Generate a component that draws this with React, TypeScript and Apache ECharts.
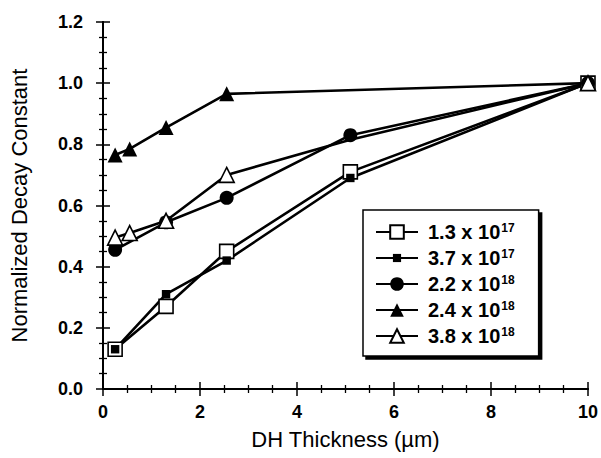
import { useEffect, useRef } from "react";
import * as echarts from "echarts";

// DH thickness (µm) at which each doping level was measured
const thickA = [0.25, 1.3, 2.55, 5.1, 10];
const thickTri = [0.25, 0.55, 1.3, 2.55, 10];
const thickOpenTri = [0.25, 0.55, 1.3, 2.55, 5.1, 10];

// Normalized decay constant for each doping level
const n13e17 = [0.13, 0.27, 0.45, 0.71, 1.0];
const n37e17 = [0.13, 0.31, 0.42, 0.69, 1.0];
const n22e18 = [0.455, 0.545, 0.625, 0.83, 1.0];
const n24e18 = [0.765, 0.785, 0.855, 0.965, 1.0];
const n38e18 = [0.495, 0.51, 0.55, 0.7, 0.815, 1.0];
// the 3.8e18 point at 5.1 µm sits under the 2.2e18 circle, so its marker is not drawn
const hiddenMarkerAt = 5.1;

// Legend labels: mantissa x 10^exponent
const mantissas = ["1.3", "3.7", "2.2", "2.4", "3.8"];
const exponents = ["17", "17", "18", "18", "18"];

const xTicks = { min: 0, max: 10, interval: 2 };
const yTicks = { min: 0, max: 1.2, interval: 0.2 };

const FONT = "'Liberation Sans', Arial, Helvetica, sans-serif";

const pair = (xs: number[], ys: number[]) => xs.map((x, i) => [x, ys[i]]);

// small square centered inside a padded box so it stays small in the legend too
const SMALL_SQUARE = "path://M0,0M10,10M2,2L8,2L8,8L2,8Z";

export default function App() {
  const ref = useRef<HTMLDivElement>(null);

  useEffect(() => {
    document.body.style.margin = "0";
    if (!ref.current) return;
    const chart = echarts.init(ref.current, null, { renderer: "svg" });

    const names = mantissas.map((m, i) => `${m} x 10^${exponents[i]}`);
    const line = { color: "#000", width: 2.6 };
    const openStyle = { color: "#fff", borderColor: "#000", borderWidth: 1.6 };
    const solidStyle = { color: "#000", borderColor: "#000", borderWidth: 0 };

    const axisCommon = {
      axisLine: { show: true, lineStyle: { color: "#000", width: 2 } },
      axisTick: { show: true, inside: true, length: 7, lineStyle: { color: "#000", width: 1.5 } },
      minorTick: { show: true, splitNumber: 4, length: 4, lineStyle: { color: "#000", width: 1.3 } },
      splitLine: { show: false },
    };

    const openTriData = thickOpenTri.map((x, i) =>
      x === hiddenMarkerAt ? { value: [x, n38e18[i]], symbol: "none" } : [x, n38e18[i]]
    );

    chart.setOption({
      animation: false,
      backgroundColor: "#fff",
      grid: { left: 100, right: 11, top: 22, bottom: 69 },
      xAxis: [
        {
          type: "value",
          ...xTicks,
          position: "bottom",
          ...axisCommon,
          axisLabel: { color: "#000", fontFamily: FONT, fontSize: 18, fontWeight: "bold", margin: 14 },
          name: "DH Thickness (\u00b5m)",
          nameLocation: "middle",
          nameGap: 39,
          nameTextStyle: { color: "#000", fontFamily: FONT, fontSize: 22 },
        },
        {
          type: "value",
          ...xTicks,
          position: "top",
          ...axisCommon,
          axisLabel: { show: false },
        },
      ],
      yAxis: [
        {
          type: "value",
          ...yTicks,
          position: "left",
          ...axisCommon,
          axisLabel: {
            color: "#000",
            fontFamily: FONT,
            fontSize: 18,
            fontWeight: "bold",
            margin: 20,
            formatter: (v: number) => v.toFixed(1),
          },
          name: "Normalized Decay Constant",
          nameLocation: "middle",
          nameGap: 73,
          nameTextStyle: { color: "#000", fontFamily: FONT, fontSize: 22 },
        },
        {
          type: "value",
          ...yTicks,
          position: "right",
          ...axisCommon,
          axisLabel: { show: false },
        },
      ],
      legend: {
        left: 363,
        top: 210,
        orient: "vertical",
        itemWidth: 42,
        itemHeight: 17,
        itemGap: 6,
        padding: [12, 24, 10, 12],
        backgroundColor: "#fff",
        borderColor: "#000",
        borderWidth: 1.5,
        borderRadius: 0,
        shadowColor: "#000",
        shadowBlur: 0,
        shadowOffsetX: 3,
        shadowOffsetY: 3,
        data: names,
        formatter: (name: string) => {
          const i = names.indexOf(name);
          return `{b|${mantissas[i]} x 10}{s|${exponents[i]}}`;
        },
        textStyle: {
          color: "#000",
          rich: {
            b: { fontFamily: FONT, fontSize: 20, fontWeight: "bold", lineHeight: 20, padding: [0, 1, 0, 5], color: "#000" },
            s: { fontFamily: FONT, fontSize: 12, fontWeight: "bold", lineHeight: 20, verticalAlign: "top", color: "#000" },
          },
        },
      },
      series: [
        {
          name: names[0],
          type: "line",
          data: pair(thickA, n13e17),
          symbol: "rect",
          symbolSize: 14,
          lineStyle: line,
          itemStyle: openStyle,
        },
        {
          name: names[1],
          type: "line",
          data: pair(thickA, n37e17),
          symbol: SMALL_SQUARE,
          symbolSize: 14,
          lineStyle: line,
          itemStyle: solidStyle,
        },
        {
          name: names[2],
          type: "line",
          data: pair(thickA, n22e18),
          symbol: "circle",
          symbolSize: 14,
          lineStyle: line,
          itemStyle: solidStyle,
        },
        {
          name: names[3],
          type: "line",
          data: pair(thickTri, n24e18),
          symbol: "triangle",
          symbolSize: 15,
          lineStyle: line,
          itemStyle: solidStyle,
        },
        {
          name: names[4],
          type: "line",
          data: openTriData,
          symbol: "triangle",
          symbolSize: 15,
          lineStyle: line,
          itemStyle: openStyle,
        },
      ],
    });

    return () => chart.dispose();
  }, []);

  return <div ref={ref} style={{ width: 601, height: 458 }} />;
}
